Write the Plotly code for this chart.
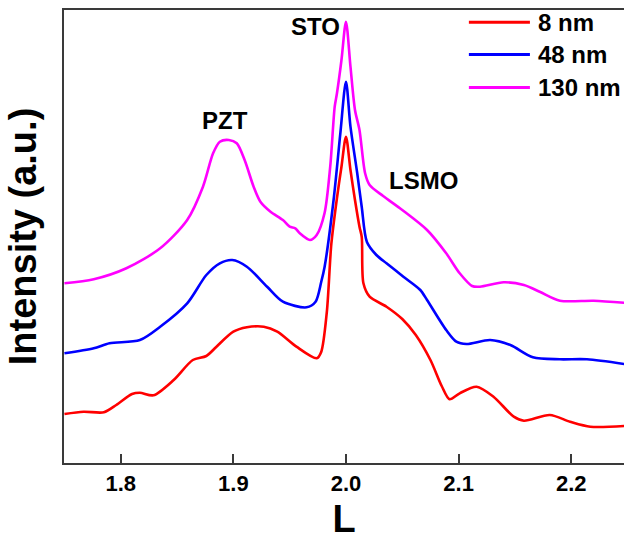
import plotly.graph_objects as go

# Reciprocal-lattice coordinate L and offset intensities (a.u.) for each film thickness
L_8nm = [1.750, 1.767, 1.785, 1.796, 1.810, 1.817, 1.829, 1.847, 1.864, 1.876,
         1.885, 1.900, 1.912, 1.927, 1.939, 1.956, 1.974, 1.978, 1.983, 1.987,
         1.992, 1.996, 2.000, 2.004, 2.008, 2.012, 2.014, 2.0155, 2.021, 2.036,
         2.050, 2.062, 2.075, 2.085, 2.092, 2.101, 2.116, 2.131,
         2.149, 2.158, 2.181, 2.199, 2.217, 2.247]
I_8nm = [48, 50.3, 49.7, 57, 68, 69.3, 66.7, 82, 102, 106,
         115.3, 130.3, 134.7, 135.3, 130.3, 115.3, 103.7, 110, 150, 218,
         264, 295.3, 325.3, 292, 262, 235.3, 225, 178.7, 165.3, 155.3,
         143, 127, 102, 76, 62.7, 68.7, 75.3, 65.3,
         45.3, 41.3, 47, 40.3, 35.3, 36]

L_48nm = [1.750, 1.776, 1.790, 1.817, 1.835, 1.859, 1.876, 1.888, 1.899, 1.912,
          1.930, 1.944, 1.965, 1.973, 1.978, 1.981, 1.989, 1.995, 2.000, 2.004,
          2.010, 2.014, 2.0186, 2.027, 2.036, 2.051, 2.066, 2.072, 2.089, 2.098,
          2.107, 2.128, 2.146, 2.166, 2.190, 2.214, 2.247]
I_48nm = [108.7, 113.7, 118.7, 122, 135.3, 158.7, 187, 198.7, 202, 195.3,
          175.3, 160.3, 154.7, 160.3, 180, 195, 262, 328.7, 380.3, 335.3,
          288.7, 255, 220, 207, 198.7, 185.3, 172, 162, 132, 120.3,
          118, 122, 117, 104.7, 102.7, 102.7, 98]

L_130nm = [1.750, 1.776, 1.805, 1.835, 1.859, 1.873, 1.882, 1.888, 1.896, 1.903,
           1.910, 1.918, 1.924, 1.933, 1.944, 1.950, 1.955, 1.959, 1.968, 1.974,
           1.981, 1.986, 1.990, 1.992, 1.996, 2.000, 2.004, 2.008, 2.012, 2.017,
           2.021, 2.033, 2.050, 2.072, 2.089, 2.101, 2.112, 2.119, 2.140, 2.158,
           2.172, 2.190, 2.220, 2.247]
I_130nm = [178.7, 182.7, 193.7, 213.7, 242, 275.3, 308.7, 320.3, 322, 318.7,
           302, 275.3, 260.3, 250.3, 242, 235.3, 233.7, 228.7, 222, 227,
           249, 295.3, 355.3, 368.7, 402, 440.3, 395.3, 352, 332, 288.7,
           277, 266, 252, 232, 208.7, 188.7, 176, 175.3, 179.7, 177,
           170.3, 161.3, 161.3, 159.3]

series_names = ["8 nm", "48 nm", "130 nm"]
series_colors = ["#FF0000", "#0000FF", "#FF00FF"]
series_L = [L_8nm, L_48nm, L_130nm]
series_I = [I_8nm, I_48nm, I_130nm]

# Peak labels placed in data coordinates
peak_labels = ["PZT", "STO", "LSMO"]
peak_L = [1.893, 1.973, 2.069]
peak_I = [342, 436, 282]

FONT = "Liberation Sans, Arial, sans-serif"
AXIS_COLOR = "#3a3a3a"

fig = go.Figure()
for name, color, xs, ys in zip(series_names, series_colors, series_L, series_I):
    fig.add_trace(go.Scatter(
        x=xs, y=ys, mode="lines", name=name,
        line=dict(color=color, width=2.6, shape="spline", smoothing=0.8),
        showlegend=False,
    ))

for text, lx, ly in zip(peak_labels, peak_L, peak_I):
    fig.add_annotation(x=lx, y=ly, text=f"<b>{text}</b>", showarrow=False,
                       font=dict(family=FONT, size=24, color="black"),
                       xanchor="center", yanchor="middle")

# Legend drawn in the upper-right corner with long line samples
legend_y = [0.973, 0.902, 0.829]
for name, color, ly in zip(series_names, series_colors, legend_y):
    fig.add_shape(type="line", xref="paper", yref="paper",
                  x0=0.723, x1=0.832, y0=ly, y1=ly,
                  line=dict(color=color, width=3))
    fig.add_annotation(xref="paper", yref="paper", x=0.843, y=ly,
                       text=f"<b>{name}</b>", showarrow=False,
                       xanchor="left", yanchor="middle",
                       font=dict(family=FONT, size=24, color="black"))

fig.update_layout(
    width=624, height=540,
    margin=dict(l=64, r=0, t=10, b=77),
    paper_bgcolor="white", plot_bgcolor="white",
    font=dict(family=FONT, color="black"),
)
fig.update_xaxes(
    range=[1.7496, 2.2469],
    tickvals=[1.8, 1.9, 2.0, 2.1, 2.2],
    ticktext=["1.8", "1.9", "2.0", "2.1", "2.2"],
    tickfont=dict(family=FONT, size=22, color="black", weight="bold"),
    ticks="inside", ticklen=9, tickwidth=1.6, tickcolor=AXIS_COLOR,
    showline=True, linecolor=AXIS_COLOR, linewidth=2, mirror=True,
    showgrid=False, zeroline=False,
    title=dict(text="<b>L</b>", font=dict(family=FONT, size=38, color="black"), standoff=10),
)
fig.update_yaxes(
    range=[-1, 452],
    showticklabels=False, ticks="",
    showline=True, linecolor=AXIS_COLOR, linewidth=2, mirror=False,
    showgrid=False, zeroline=False,
    title=dict(text="<b>Intensity (a.u.)</b>", font=dict(family=FONT, size=38, color="black"), standoff=14),
)

fig.write_html("out.html")
